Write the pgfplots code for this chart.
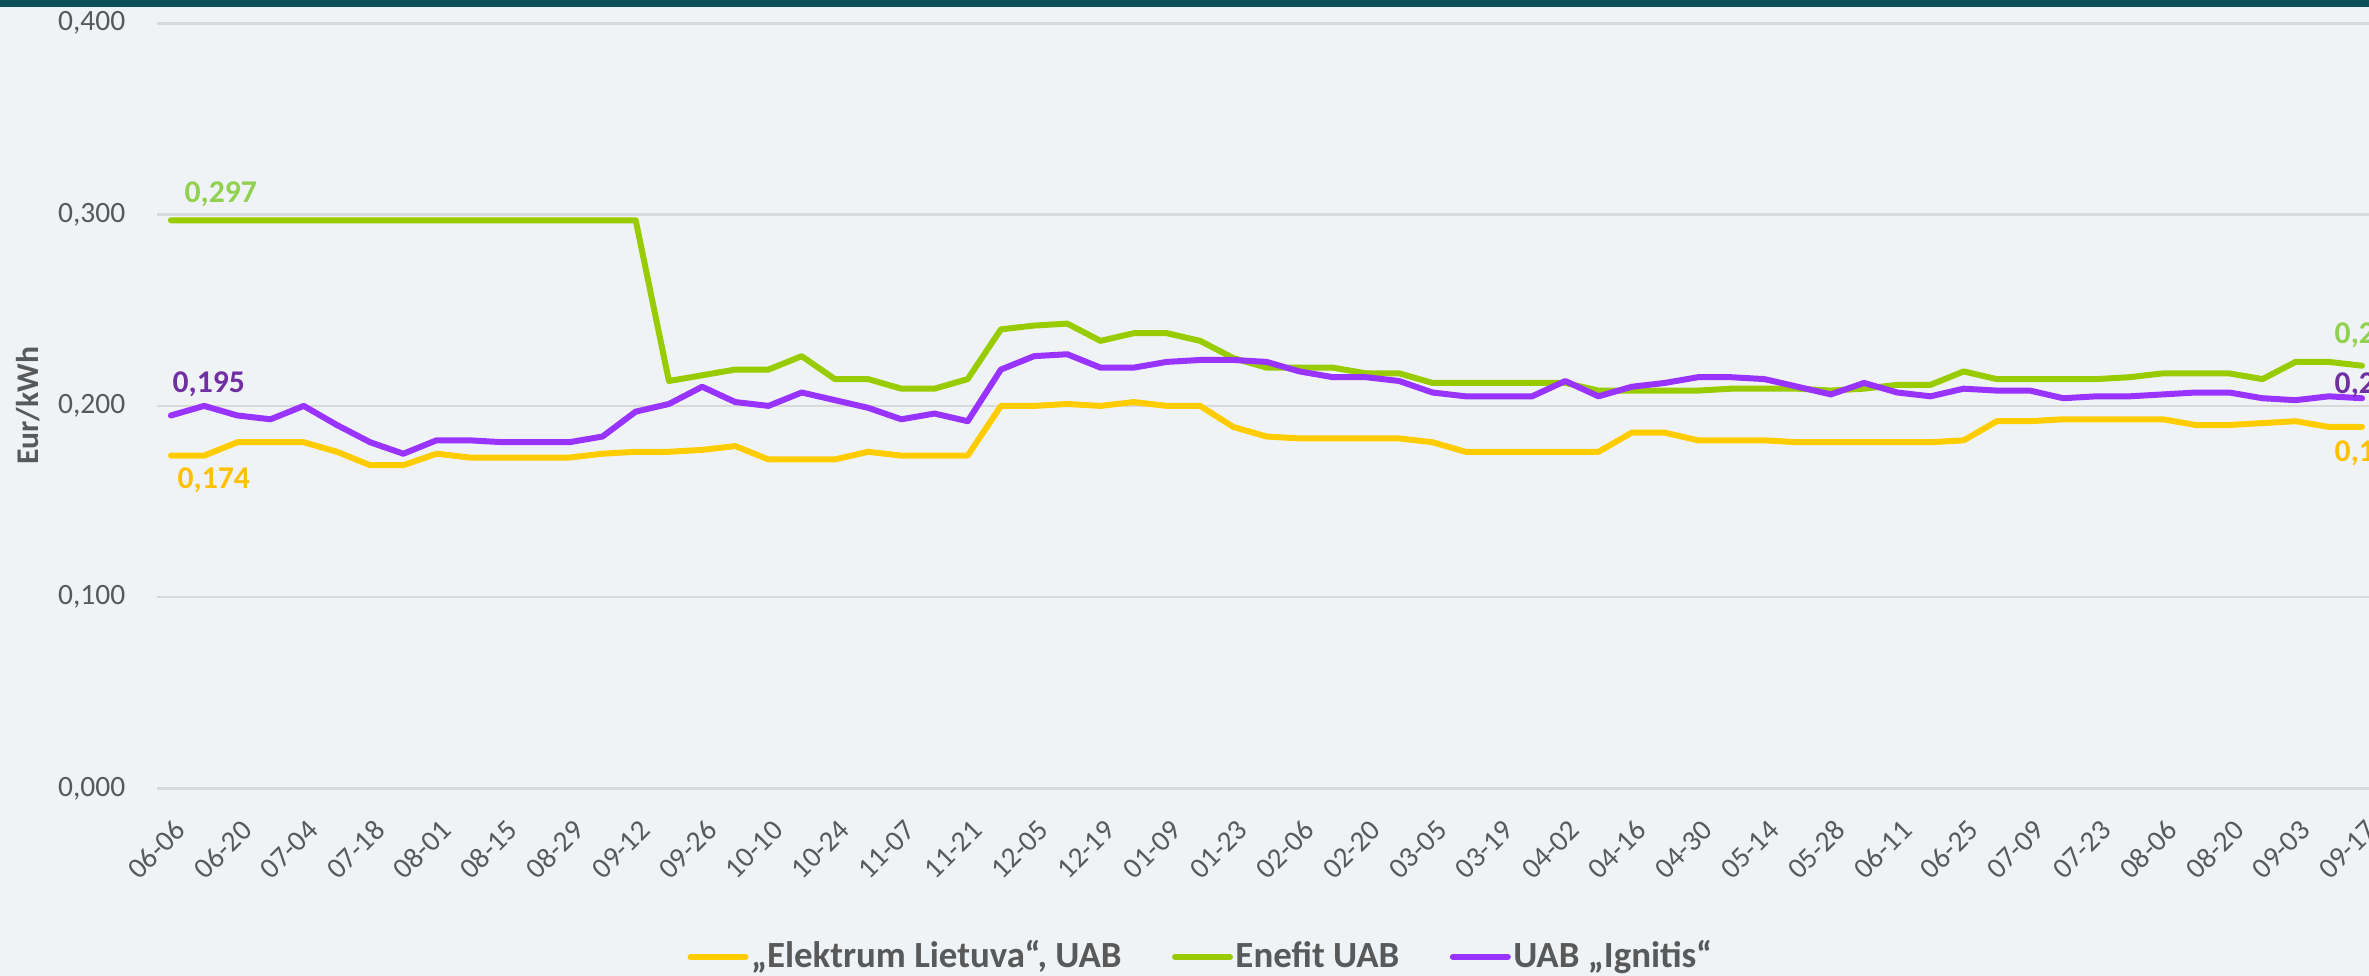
\documentclass[border=0pt]{standalone}
\usepackage{pgfplots}
\usepackage{pgfplotstable}
\pgfplotsset{compat=1.18}
\usepackage{fontspec}
\setmainfont{Carlito}
\definecolor{bgcol}{HTML}{EFF3F6}
\definecolor{topbar}{HTML}{0B4F5A}
\definecolor{textgray}{HTML}{595959}
\definecolor{gridgray}{HTML}{D9D9D9}
\definecolor{cyel}{HTML}{FFCC00}
\definecolor{cgrn}{HTML}{99CC00}
\definecolor{cpur}{HTML}{9933FF}
\definecolor{lyel}{HTML}{FFC000}
\definecolor{lgrn}{HTML}{92D050}
\definecolor{lpur}{HTML}{7030A0}
\pgfplotstableread{
i el en ig
0 0.174 0.297 0.195
1 0.174 0.297 0.200
2 0.181 0.297 0.195
3 0.181 0.297 0.193
4 0.181 0.297 0.200
5 0.176 0.297 0.190
6 0.169 0.297 0.181
7 0.169 0.297 0.175
8 0.175 0.297 0.182
9 0.173 0.297 0.182
10 0.173 0.297 0.181
11 0.173 0.297 0.181
12 0.173 0.297 0.181
13 0.175 0.297 0.184
14 0.176 0.297 0.197
15 0.176 0.213 0.201
16 0.177 0.216 0.210
17 0.179 0.219 0.202
18 0.172 0.219 0.200
19 0.172 0.226 0.207
20 0.172 0.214 0.203
21 0.176 0.214 0.199
22 0.174 0.209 0.193
23 0.174 0.209 0.196
24 0.174 0.214 0.192
25 0.200 0.240 0.219
26 0.200 0.242 0.226
27 0.201 0.243 0.227
28 0.200 0.234 0.220
29 0.202 0.238 0.220
30 0.200 0.238 0.223
31 0.200 0.234 0.224
32 0.189 0.225 0.224
33 0.184 0.220 0.223
34 0.183 0.220 0.218
35 0.183 0.220 0.215
36 0.183 0.217 0.215
37 0.183 0.217 0.213
38 0.181 0.212 0.207
39 0.176 0.212 0.205
40 0.176 0.212 0.205
41 0.176 0.212 0.205
42 0.176 0.212 0.213
43 0.176 0.208 0.205
44 0.186 0.208 0.210
45 0.186 0.208 0.212
46 0.182 0.208 0.215
47 0.182 0.209 0.215
48 0.182 0.209 0.214
49 0.181 0.209 0.210
50 0.181 0.208 0.206
51 0.181 0.209 0.212
52 0.181 0.211 0.207
53 0.181 0.211 0.205
54 0.182 0.218 0.209
55 0.192 0.214 0.208
56 0.192 0.214 0.208
57 0.193 0.214 0.204
58 0.193 0.214 0.205
59 0.193 0.215 0.205
60 0.193 0.217 0.206
61 0.190 0.217 0.207
62 0.190 0.217 0.207
63 0.191 0.214 0.204
64 0.192 0.223 0.203
65 0.189 0.223 0.205
66 0.189 0.221 0.204
}\datatable
\begin{document}
\begin{tikzpicture}
\fill[bgcol] (0,0) rectangle (236.9mm,97.6mm);
\fill[topbar] (0,96.9mm) rectangle (236.9mm,97.6mm);
\begin{axis}[
  at={(15.7mm,18.75mm)}, anchor=south west,
  scale only axis, width=221.2mm, height=76.52mm,
  xmin=-0.42, xmax=66.21, ymin=0, ymax=0.4,
  clip=false,
  axis line style={draw=none}, major tick length=0pt,
  ytick={0,0.1,0.2,0.3,0.4},
  scaled y ticks=false,
  ymajorgrids, grid style={color=gridgray, line width=0.25mm},
  yticklabel style={font=\fontsize{8.4}{10}\selectfont, text=textgray, anchor=east, inner sep=0pt, xshift=-3.1mm,
     /pgf/number format/.cd, fixed, fixed zerofill, precision=3, use comma, assume math mode=true},
  xtick={0,2,...,66},
  xticklabels={06-06,06-20,07-04,07-18,08-01,08-15,08-29,09-12,09-26,10-10,10-24,11-07,11-21,12-05,12-19,01-09,01-23,02-06,02-20,03-05,03-19,04-02,04-16,04-30,05-14,05-28,06-11,06-25,07-09,07-23,08-06,08-20,09-03,09-17},
  xticklabel style={font=\fontsize{8.3}{10}\selectfont, text=textgray, inner sep=0pt, xshift=1mm, yshift=-3.65mm, rotate=45, anchor=east},
  ylabel={Eur/kWh},
  ylabel style={font=\bfseries\fontsize{9}{11}\selectfont, text=textgray, at={(axis description cs:-0.0583,0.5)}, anchor=center},
  legend style={at={(axis description cs:0.472,-0.2202)}, anchor=center, draw=none, fill=none, inner sep=0pt, outer sep=0pt,
     font=\bfseries\fontsize{10.5}{12.6}\selectfont, text=textgray, nodes={inner sep=0.25mm},
     /tikz/every even column/.append style={column sep=4.8mm}},
  legend columns=-1,
  legend image code/.code={\draw[#1, line width=0.6mm] (0mm,0mm) -- (5.5mm,0mm);},
  every axis plot/.append style={line width=0.6mm, line join=round, line cap=round},
]
\addplot[cyel] table[x=i,y=el] {\datatable};
\addlegendentry{„Elektrum Lietuva“, UAB}
\addplot[cgrn] table[x=i,y=en] {\datatable};
\addlegendentry{Enefit UAB}
\addplot[cpur] table[x=i,y=ig] {\datatable};
\addlegendentry{UAB „Ignitis“}
\node[anchor=base west, inner sep=0pt, text=lgrn, font=\bfseries\fontsize{9}{11}\selectfont, xshift=1.3mm, yshift=1.8mm] at (axis cs:0,0.297) {0,297};
\node[anchor=base west, inner sep=0pt, text=lpur, font=\bfseries\fontsize{9}{11}\selectfont, xshift=0.1mm, yshift=2.25mm] at (axis cs:0,0.195) {0,195};
\node[anchor=base west, inner sep=0pt, text=lyel, font=\bfseries\fontsize{9}{11}\selectfont, xshift=0.6mm, yshift=-3.25mm] at (axis cs:0,0.174) {0,174};
\node[anchor=base west, inner sep=0pt, text=lgrn, font=\bfseries\fontsize{9}{11}\selectfont, xshift=-2.8mm, yshift=2.2mm] at (axis cs:66,0.221) {0,221};
\node[anchor=base west, inner sep=0pt, text=lpur, font=\bfseries\fontsize{9}{11}\selectfont, xshift=-2.8mm, yshift=0.5mm] at (axis cs:66,0.204) {0,204};
\node[anchor=base west, inner sep=0pt, text=lyel, font=\bfseries\fontsize{9}{11}\selectfont, xshift=-2.8mm, yshift=-3.5mm] at (axis cs:66,0.189) {0,189};
\end{axis}
\pgfresetboundingbox
\useasboundingbox (0,0) rectangle (236.9mm,97.6mm);
\end{tikzpicture}
\end{document}
